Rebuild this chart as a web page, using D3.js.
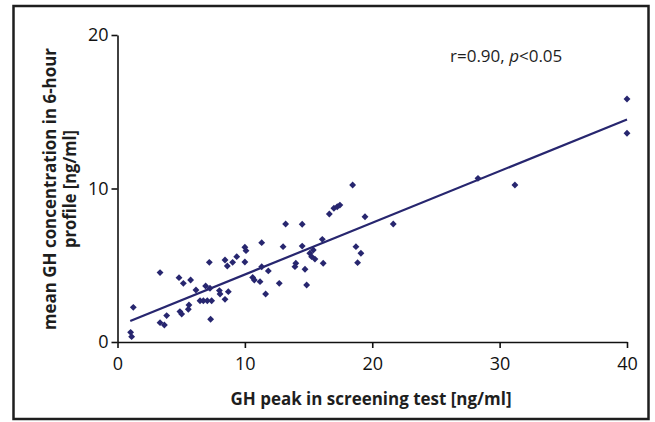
<!DOCTYPE html>
<html>
<head>
<meta charset="utf-8">
<script src="https://cdn.jsdelivr.net/npm/d3@7"></script>
<style>
  body { margin: 0; background: #fff; }
  svg text { font-family: "Open Sans", "Noto Sans", sans-serif; }
</style>
</head>
<body>
<svg width="655" height="422"></svg>
<script>
// GH peak in screening test (x) vs mean GH in 6-hour profile (y)
const peakGH = [1.03, 1.11, 1.24, 3.34, 3.34, 3.68, 3.86, 4.83, 5.17, 5.74,
    4.9, 5.04, 5.61, 5.56, 6.16, 7.21, 6.92, 6.48, 6.74, 7.05,
    7.39, 7.31, 7.26, 8.0, 8.05, 8.44, 8.7, 8.44, 8.62, 9.04,
    9.36, 10.0, 10.09, 10.0, 11.32, 11.32, 11.84, 10.61, 10.74, 11.19,
    11.63, 12.7, 13.2, 14.5, 13.0, 14.5, 14.0, 13.93, 14.72, 14.85,
    15.1, 15.24, 15.37, 15.5, 16.08, 16.15, 16.63, 16.99, 17.25, 17.46,
    18.46, 19.43, 21.65, 18.72, 19.11, 18.85, 28.3, 31.2, 40.0, 40.0];
const meanGH = [0.63, 0.35, 2.26, 4.52, 1.26, 1.11, 1.72, 4.19, 3.82, 4.04,
    1.98, 1.82, 2.41, 2.13, 3.39, 5.19, 3.65, 2.69, 2.69, 2.69,
    2.69, 1.48, 3.5, 3.35, 3.13, 2.78, 3.28, 5.34, 4.95, 5.19,
    5.56, 6.17, 5.95, 5.21, 6.47, 4.9, 4.63, 4.21, 4.04, 3.93,
    3.13, 3.82, 7.69, 7.67, 6.21, 6.25, 5.13, 4.91, 4.74, 3.71,
    5.78, 5.56, 5.99, 5.4, 6.69, 5.13, 8.34, 8.71, 8.81, 8.92,
    10.23, 8.16, 7.69, 6.21, 5.78, 5.17, 10.66, 10.23, 15.83, 13.6];

// regression line endpoints
const fitX = [1, 40];
const fitY = [1.37, 14.5];

const xTicks = [0, 10, 20, 30, 40];
const yTicks = [0, 10, 20];

const navy = "#27266f";

let svg = d3.select("svg");

// frame around whole figure
svg.append("rect")
    .attr("x", 13.5).attr("y", 6)
    .attr("width", 635).attr("height", 413)
    .attr("fill", "none")
    .attr("stroke", "#1e1e1e")
    .attr("stroke-width", 2.5);

let x = d3.scaleLinear().domain([0, 40]).range([117.5, 627]);
let y = d3.scaleLinear().domain([0, 20]).range([342, 35]);

// axes
let xAxis = svg.append("g")
    .attr("transform", "translate(0,342)")
    .call(d3.axisBottom(x).tickValues(xTicks).tickSize(6).tickSizeOuter(0).tickPadding(9));
let yAxis = svg.append("g")
    .attr("transform", "translate(117.5,0)")
    .call(d3.axisLeft(y).tickValues(yTicks).tickSize(6).tickSizeOuter(0).tickPadding(3));

[xAxis, yAxis].forEach(a => {
    a.select(".domain").attr("stroke", "#111").attr("stroke-width", 1.6);
    a.selectAll(".tick line").attr("stroke", "#111").attr("stroke-width", 1.6);
    a.selectAll("text")
        .attr("font-family", "'Open Sans', sans-serif")
        .attr("font-size", "18px")
        .attr("fill", "#111");
});

// regression line
svg.append("line")
    .attr("x1", x(fitX[0])).attr("y1", y(fitY[0]))
    .attr("x2", x(fitX[1])).attr("y2", y(fitY[1]))
    .attr("stroke", navy)
    .attr("stroke-width", 2.2);

// points as small diamonds
let diamond = d3.symbol().type(d3.symbolDiamond2).size(30);
svg.selectAll(".pt")
    .data(peakGH)
    .enter().append("path")
    .attr("class", "pt")
    .attr("d", diamond)
    .attr("transform", (d, i) => "translate(" + x(d) + "," + y(meanGH[i]) + ")")
    .attr("fill", navy);

// axis titles
svg.append("text")
    .attr("x", 371).attr("y", 405)
    .attr("text-anchor", "middle")
    .attr("font-weight", "bold")
    .attr("font-size", "17.5px")
    .attr("textLength", 281)
    .attr("lengthAdjust", "spacingAndGlyphs")
    .attr("fill", "#1e1e1e")
    .text("GH peak in screening test [ng/ml]");

let yt = svg.append("text")
    .attr("transform", "translate(56,189) rotate(-90)")
    .attr("text-anchor", "middle")
    .attr("font-weight", "bold")
    .attr("font-size", "17.5px")
    .attr("fill", "#1e1e1e");
yt.append("tspan").attr("x", 0).attr("dy", 0)
    .attr("textLength", 282).attr("lengthAdjust", "spacingAndGlyphs")
    .text("mean GH concentration in 6-hour");
yt.append("tspan").attr("x", 0).attr("dy", 20)
    .attr("textLength", 118).attr("lengthAdjust", "spacingAndGlyphs")
    .text("profile [ng/ml]");

// correlation note
let note = svg.append("text")
    .attr("x", 450).attr("y", 62)
    .attr("font-size", "17px")
    .attr("fill", "#1e1e1e");
note.append("tspan").text("r=0.90, ");
note.append("tspan").attr("font-style", "italic").text("p");
note.append("tspan").text("<0.05");
</script>
</body>
</html>
